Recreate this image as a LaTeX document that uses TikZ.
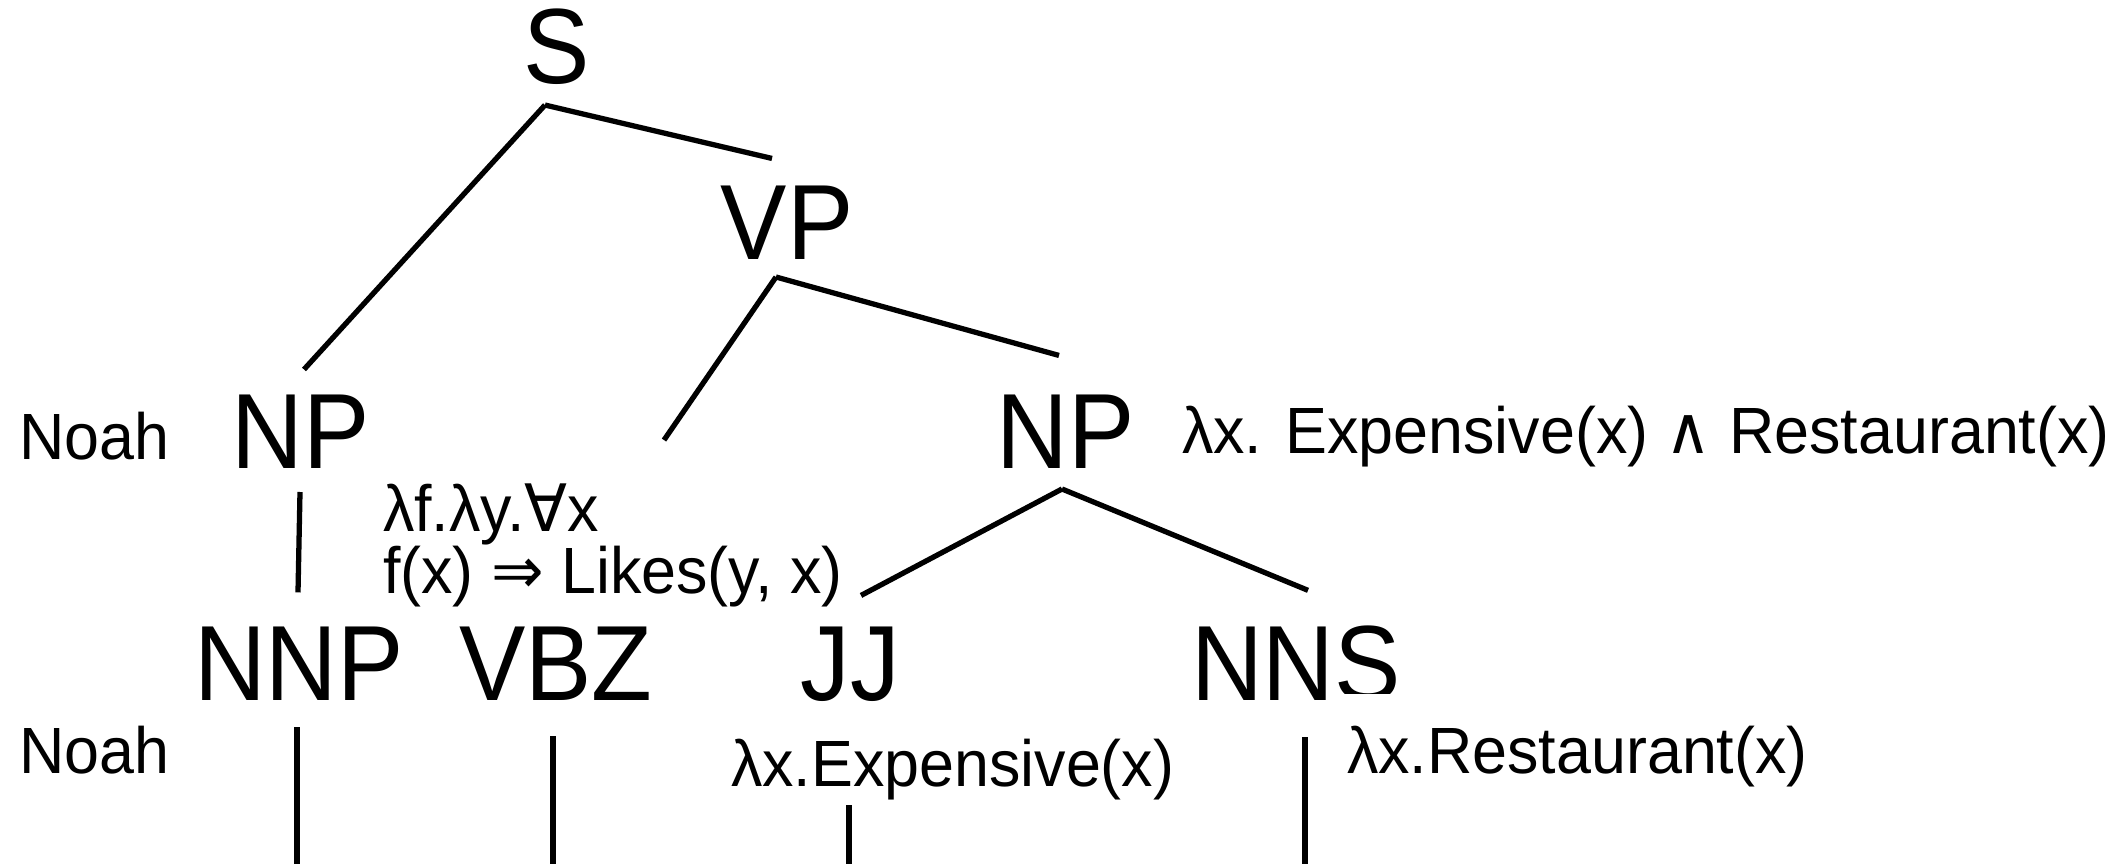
\documentclass[tikz,border=0pt]{standalone}
\usepackage{fontspec}
\setmainfont{Liberation Sans}[FakeStretch=0.93]
\newfontfamily\semfont{Liberation Sans}[FakeStretch=0.96]
\newfontfamily\symfont{DejaVu Sans}[FakeStretch=0.96]

\begin{document}
\begin{tikzpicture}
[x=0.01cm, y=-0.01cm, line width=1.5pt,
 every node/.style={inner sep=0, outer sep=0},
 nodeCat/.style={anchor=base, font=\fontsize{30.4}{36}\selectfont},
 nodeSem/.style={anchor=base west, align=left,
   font=\semfont\fontsize{18.6}{17.4}\selectfont}
]
\useasboundingbox (0,0) rectangle (2119,864);
\node[nodeCat] (S)   at ( 557,  84) {S};
\node[nodeCat] (VP)  at ( 787, 260) {VP};
\node[nodeCat] (NP1) at ( 301, 468) {NP};
\node[nodeCat] (NP2) at (1066, 468) {NP};
\node[nodeCat] (NNP) at ( 299, 700) {NNP};
\node[nodeCat] (VBZ) at ( 556, 700) {VBZ};
\node[nodeCat] (JJ)  at ( 850, 700) {JJ};
\node[nodeCat] (NNS) at (1296, 700) {NNS};
\node[nodeSem] (npWord)  at (  19, 459) {Noah};
\node[nodeSem] (nnpWord) at (  19, 773) {Noah};
\node[nodeSem] (npSem)   at (1182, 453)
  {λx. Expensive(x) {\symfont ∧} Restaurant(x)};
\node[nodeSem] (vbzSem)  at ( 383, 593)
  {λf.λy.{\symfont ∀}x\\ f(x) {\symfont ⇒} Likes(y, x)};
\node[nodeSem] (jjSem)   at ( 731, 786) {λx.Expensive(x)};
\node[nodeSem, fill=white, inner xsep=0.07cm, inner ysep=0.32cm]
  (nnsSem) at (1340, 773) {λx.Restaurant(x)};
\coordinate (NNP-w) at ( 297, 864);
\coordinate (VBZ-w) at ( 553, 864);
\coordinate (JJ-w)  at ( 849, 864);
\coordinate (NNS-w) at (1305, 864);
\draw ([shift={(-12,20)}]S.south)  -- ([shift={(3,-25)}]NP1.north);
\draw ([shift={(-12,20)}]S.south)  -- ([shift={(-15,-28)}]VP.north);
\draw[shorten >=2.26cm] ([shift={(-11,17)}]VP.south) -- ([xshift=-0.2cm]VBZ.north);
\draw ([shift={(-11,17)}]VP.south) -- ([shift={(-7,-39)}]NP2.north);
\draw ([shift={(-1,24)}]NP1.south) -- ([shift={(-1,-34)}]NNP.north);
\draw ([shift={(-4,21)}]NP2.south) -- ([shift={(11,-31)}]JJ.north);
\draw ([shift={(-4,21)}]NP2.south) -- ([shift={(12,-35)}]NNS.north);
\draw ([shift={(-2,27)}]NNP.south) -- (NNP-w);
\draw ([shift={(-3,36)}]VBZ.south) -- (VBZ-w);
\draw ([shift={(-1,104)}]JJ.south) -- (JJ-w);
\draw ([shift={(9,36)}]NNS.south)  -- (NNS-w);
\end{tikzpicture}
\end{document}
